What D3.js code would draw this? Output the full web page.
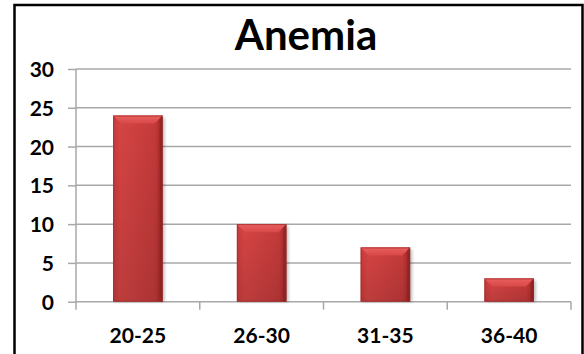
<!DOCTYPE html>
<html>
<head>
<meta charset="utf-8">
<script src="https://cdn.jsdelivr.net/npm/d3@7"></script>
<style>
  html, body { margin: 0; padding: 0; background: #fff; }
  svg { display: block; }
  text { font-family: Lato, "Open Sans", sans-serif; font-weight: bold; fill: #000; }
</style>
</head>
<body>
<svg id="chart" width="584" height="354"></svg>
<script>
// Anemia cases by age group
const categories = ["20-25", "26-30", "31-35", "36-40"];
const values = [24, 10, 7, 3];
const yTicks = [0, 5, 10, 15, 20, 25, 30];
const title = "Anemia";

const svg = d3.select("#chart");
const margin = { left: 76, right: 13, top: 69, bottom: 52.3 };
const W = 584, H = 354;

// outer frame (bottom edge runs off the canvas)
svg.append("rect")
  .attr("x", 14.5).attr("y", 5).attr("width", 568).attr("height", 400)
  .attr("fill", "#fff").attr("stroke", "#000").attr("stroke-width", 2.5);

const x = d3.scaleBand()
  .domain(categories)
  .range([margin.left, W - margin.right])
  .paddingInner(0.6)
  .paddingOuter(0.3);

const y = d3.scaleLinear()
  .domain([0, 30])
  .range([H - margin.bottom, margin.top]);

const gridColor = "#a8a8a8";

// y axis: ticks and labels
const yAxis = d3.axisLeft(y).tickValues(yTicks).tickSize(8).tickPadding(14);
const gy = svg.append("g").attr("transform", `translate(${margin.left},0)`).call(yAxis);
gy.select(".domain").remove();
gy.selectAll(".tick line").attr("stroke", gridColor).attr("stroke-width", 1.5);
gy.selectAll(".tick text").attr("font-size", 21).attr("dy", "0.36em")
  .style("font-family", "Lato, 'Open Sans', sans-serif").style("font-weight", "bold").attr("fill", "#000");

// horizontal gridlines
svg.append("g").selectAll("line").data(yTicks).join("line")
  .attr("x1", margin.left).attr("x2", W - margin.right)
  .attr("y1", d => y(d)).attr("y2", d => y(d))
  .attr("stroke", gridColor).attr("stroke-width", 1.5);

// vertical axis line
svg.append("line")
  .attr("x1", margin.left).attr("x2", margin.left)
  .attr("y1", y(30)).attr("y2", y(0) + 8)
  .attr("stroke", gridColor).attr("stroke-width", 1.5);

// category boundary ticks below the baseline
const edges = categories.map((c, i) => margin.left + (i + 1) * (W - margin.right - margin.left) / categories.length);
svg.append("g").selectAll("line").data(edges).join("line")
  .attr("x1", d => d).attr("x2", d => d)
  .attr("y1", y(0)).attr("y2", y(0) + 8)
  .attr("stroke", gridColor).attr("stroke-width", 1.5);

// category labels
svg.append("g").selectAll("text").data(categories).join("text")
  .attr("x", d => x(d) + x.bandwidth() / 2)
  .attr("y", 343)
  .attr("text-anchor", "middle")
  .attr("font-size", 21)
  .text(d => d);

// bar fills
const defs = svg.append("defs");
const g1 = defs.append("linearGradient").attr("id", "barFill").attr("x1", 0).attr("x2", 1).attr("y1", 0).attr("y2", 0);
g1.append("stop").attr("offset", "0%").attr("stop-color", "#c93a3a");
g1.append("stop").attr("offset", "15%").attr("stop-color", "#d64444");
g1.append("stop").attr("offset", "85%").attr("stop-color", "#c43a3a");
g1.append("stop").attr("offset", "100%").attr("stop-color", "#9e2626");
const g2 = defs.append("linearGradient").attr("id", "barTop").attr("x1", 0).attr("x2", 0).attr("y1", 0).attr("y2", 1);
g2.append("stop").attr("offset", "0%").attr("stop-color", "#ea6060");
g2.append("stop").attr("offset", "100%").attr("stop-color", "#d84848");
const g3 = defs.append("linearGradient").attr("id", "barShade").attr("x1", 0).attr("x2", 0).attr("y1", 0).attr("y2", 1);
g3.append("stop").attr("offset", "0%").attr("stop-color", "#000").attr("stop-opacity", 0);
g3.append("stop").attr("offset", "100%").attr("stop-color", "#000").attr("stop-opacity", 0.12);
const blur = defs.append("filter").attr("id", "shadow").attr("x", "-20%").attr("y", "-20%").attr("width", "150%").attr("height", "150%");
blur.append("feGaussianBlur").attr("stdDeviation", 1.5);

const bars = svg.append("g").selectAll("g").data(values).join("g");
const bw = x.bandwidth();
const bev = 8;

// soft drop shadow
bars.append("rect")
  .attr("x", (d, i) => x(categories[i]) + 2)
  .attr("y", d => y(d) + 2)
  .attr("width", bw)
  .attr("height", d => y(0) - y(d) - 2)
  .attr("fill", "#000").attr("opacity", 0.25)
  .attr("filter", "url(#shadow)");

bars.append("rect")
  .attr("x", (d, i) => x(categories[i]))
  .attr("y", d => y(d))
  .attr("width", bw)
  .attr("height", d => y(0) - y(d))
  .attr("fill", "url(#barFill)");

bars.append("rect")
  .attr("x", (d, i) => x(categories[i]))
  .attr("y", d => y(d))
  .attr("width", bw)
  .attr("height", d => y(0) - y(d))
  .attr("fill", "url(#barShade)");

// top bevel
bars.append("path")
  .attr("d", (d, i) => {
    const x0 = x(categories[i]), x1 = x0 + bw, t = y(d);
    return `M${x0},${t}L${x1},${t}L${x1 - bev},${t + bev}L${x0 + bev},${t + bev}Z`;
  })
  .attr("fill", "url(#barTop)");

// right edge bevel
bars.append("path")
  .attr("d", (d, i) => {
    const x0 = x(categories[i]), x1 = x0 + bw, t = y(d), b = y(0);
    return `M${x1},${t}L${x1},${b}L${x1 - 3},${b}L${x1 - 3},${t + 3}Z`;
  })
  .attr("fill", "#8e2020").attr("opacity", 0.6);

// bar outline
bars.append("rect")
  .attr("x", (d, i) => x(categories[i]) + 0.5)
  .attr("y", d => y(d) + 0.5)
  .attr("width", bw - 1)
  .attr("height", d => y(0) - y(d) - 1)
  .attr("fill", "none").attr("stroke", "#9a2a2a").attr("stroke-width", 1).attr("opacity", 0.7);

// title
svg.append("text")
  .attr("x", 306).attr("y", 50)
  .attr("text-anchor", "middle")
  .attr("font-size", 42)
  .text(title);
</script>
</body>
</html>
